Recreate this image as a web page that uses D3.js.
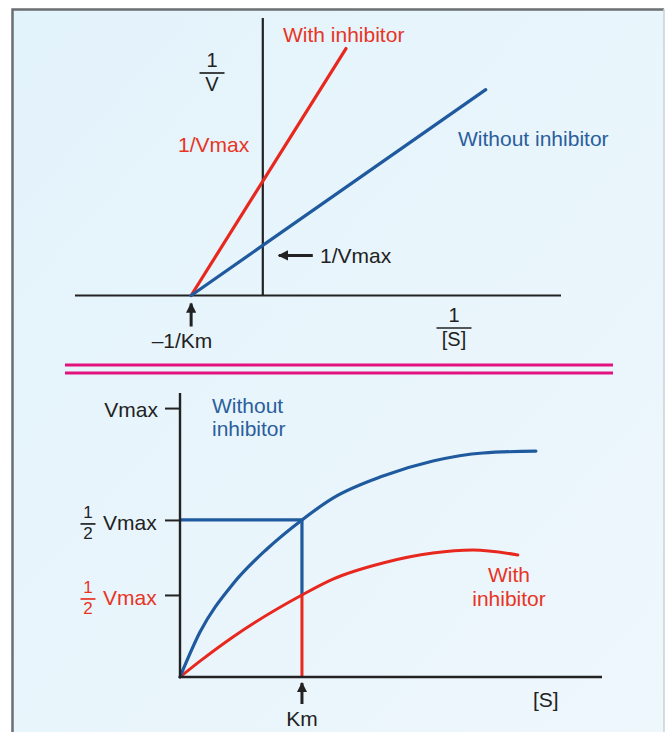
<!DOCTYPE html>
<html>
<head>
<meta charset="utf-8">
<script src="https://cdn.jsdelivr.net/npm/d3@7"></script>
<style>
  html, body { margin: 0; padding: 0; background: #ffffff; }
  svg { display: block; font-family: "Liberation Sans", Arial, Helvetica, sans-serif; }
</style>
</head>
<body>
<svg id="chart" width="666" height="732"></svg>
<script>
// ---- Lineweaver–Burk plot (1/V against 1/[S]); units: 1/Km = 1, 1/Vmax (no inhibitor) = 1
const lbSeriesNames = ["Without inhibitor", "With inhibitor"];
const lbWithout = [[-1, 0], [3.11, 4.11]];
const lbWith = [[-1, 0], [1.16, 4.93]];
const lbXDomain = [-2.62, 4.16];
const lbYDomain = [0, 5.54];

// ---- Michaelis–Menten plot (V against [S]); units: Km = 1, Vmax = 1
const mmSeriesNames = ["Without inhibitor", "With inhibitor"];
const mmWithoutS = [0, 0.164, 0.434, 0.713, 1, 1.254, 1.664, 2.074, 2.484, 2.918];
const mmWithoutV = [0, 0.167, 0.346, 0.476, 0.584, 0.665, 0.747, 0.803, 0.833, 0.840];
const mmWithS = [0, 0.164, 0.434, 1, 1.254, 1.664, 2.074, 2.402, 2.770];
const mmWithV = [0, 0.059, 0.149, 0.305, 0.364, 0.424, 0.461, 0.472, 0.454];
const mmKm = 1;
const mmTickValues = [1.0, 0.584, 0.305];
const mmTickLabels = ["Vmax", "1/2 Vmax", "1/2 Vmax"];
const mmXDomain = [0, 3.46];
const mmYDomain = [0, 1.056];

const BLUE = "#1f5a9e", RED = "#e8281e", INK = "#222222";
const BLUE_TXT = "#2b5e9c", RED_TXT = "#e83424", PINK = "#e4127f";
const FS = 21;

const svg = d3.select("#chart");
const defs = svg.append("defs");

// panel background
const grad = defs.append("linearGradient").attr("id", "bg")
  .attr("x1", "0").attr("y1", "0").attr("x2", "1").attr("y2", "1");
grad.append("stop").attr("offset", "0").attr("stop-color", "#e3f3fb");
grad.append("stop").attr("offset", "1").attr("stop-color", "#eef7fc");

svg.append("rect").attr("x", 12).attr("y", 9).attr("width", 652).attr("height", 740)
  .attr("fill", "url(#bg)");
svg.append("path").attr("d", "M12.5,740 V9.5 H664")
  .attr("fill", "none").attr("stroke", "#6b6f72").attr("stroke-width", 2.5);
svg.append("line").attr("x1", 664).attr("x2", 664).attr("y1", 9).attr("y2", 740)
  .attr("stroke", "#c9d2d8").attr("stroke-width", 1.5);

// arrowheads
defs.append("marker").attr("id", "ah")
  .attr("viewBox", "0 0 10 10").attr("refX", 9).attr("refY", 5)
  .attr("markerWidth", 3.6).attr("markerHeight", 3.4).attr("orient", "auto")
  .attr("markerUnits", "strokeWidth")
  .append("path").attr("d", "M0,0 L10,5 L0,10 Z").attr("fill", INK);

function arrow(g, x1, y1, x2, y2) {
  g.append("line").attr("x1", x1).attr("y1", y1).attr("x2", x2).attr("y2", y2)
    .attr("stroke", INK).attr("stroke-width", 3).attr("marker-end", "url(#ah)");
}

function text(g, x, y, str, opts = {}) {
  return g.append("text").attr("x", x).attr("y", y).text(str)
    .attr("font-size", opts.size || FS)
    .attr("fill", opts.color || INK)
    .attr("text-anchor", opts.anchor || "start");
}

function fraction(g, cx, topY, num, den, color, size, barW) {
  text(g, cx, topY, num, { anchor: "middle", color, size });
  g.append("line").attr("x1", cx - barW / 2).attr("x2", cx + barW / 2)
    .attr("y1", topY + 6).attr("y2", topY + 6)
    .attr("stroke", color).attr("stroke-width", 1.7);
  text(g, cx, topY + 6 + size * 0.9, den, { anchor: "middle", color, size });
}

// ================= Lineweaver–Burk =================
const lbG = svg.append("g");
const lx = d3.scaleLinear().domain(lbXDomain).range([75, 561]);
const ly = d3.scaleLinear().domain(lbYDomain).range([295.5, 18]);

lbG.append("line").attr("x1", lx(lbXDomain[0])).attr("x2", lx(lbXDomain[1]))
  .attr("y1", ly(0)).attr("y2", ly(0)).attr("stroke", INK).attr("stroke-width", 2.2);
lbG.append("line").attr("x1", lx(0)).attr("x2", lx(0))
  .attr("y1", ly(0)).attr("y2", ly(lbYDomain[1])).attr("stroke", INK).attr("stroke-width", 2.2);

const lbLine = d3.line().x(d => lx(d[0])).y(d => ly(d[1]));
[[lbWith, RED], [lbWithout, BLUE]].forEach(([pts, c]) => {
  lbG.append("path").datum(pts).attr("d", lbLine)
    .attr("fill", "none").attr("stroke", c).attr("stroke-width", 3.2).attr("stroke-linecap", "round");
});

text(lbG, 283, 42, lbSeriesNames[1], { color: RED_TXT });
text(lbG, 458, 146, lbSeriesNames[0], { color: BLUE_TXT });
text(lbG, 178, 152, "1/Vmax", { color: RED_TXT });
fraction(lbG, 212, 67, "1", "V", INK, 20, 25);

// 1/Vmax arrow pointing at the y-intercept of the uninhibited line
arrow(lbG, lx(0) + 50, ly(lbWithout[0][1] + 1) + 10, lx(0) + 16, ly(lbWithout[0][1] + 1) + 10);
text(lbG, 320, 263, "1/Vmax");

// -1/Km arrow
arrow(lbG, lx(lbWithout[0][0]), ly(0) + 31, lx(lbWithout[0][0]), ly(0) + 8);
text(lbG, 182, 348, "\u20131/Km", { anchor: "middle" });
fraction(lbG, 454, 322, "1", "[S]", INK, 20, 35);

// ================= divider =================
[365, 373].forEach(y => {
  svg.append("line").attr("x1", 65).attr("x2", 613).attr("y1", y).attr("y2", y)
    .attr("stroke", PINK).attr("stroke-width", 3.2);
});

// ================= Michaelis–Menten =================
const mmG = svg.append("g");
const mx = d3.scaleLinear().domain(mmXDomain).range([180, 602]);
const my = d3.scaleLinear().domain(mmYDomain).range([677, 393]);

const yAxis = d3.axisLeft(my).tickValues(mmTickValues).tickSize(15).tickSizeOuter(0).tickFormat("");
const ya = mmG.append("g").attr("transform", `translate(${mx(0)},0)`).call(yAxis);
ya.select(".domain").remove();
ya.selectAll(".tick line").attr("stroke", INK).attr("stroke-width", 2);

const mmLine = d3.line().x(d => mx(d[0])).y(d => my(d[1])).curve(d3.curveMonotoneX);
const withoutPts = mmWithoutS.map((s, i) => [s, mmWithoutV[i]]);
const withPts = mmWithS.map((s, i) => [s, mmWithV[i]]);

// guide lines at Km
const vHalf = mmTickValues[1], vHalfInh = mmTickValues[2];
mmG.append("line").attr("x1", mx(0)).attr("x2", mx(mmKm)).attr("y1", my(vHalf)).attr("y2", my(vHalf))
  .attr("stroke", BLUE).attr("stroke-width", 3.2);
mmG.append("line").attr("x1", mx(mmKm)).attr("x2", mx(mmKm)).attr("y1", my(vHalf)).attr("y2", my(vHalfInh))
  .attr("stroke", BLUE).attr("stroke-width", 3.2);
mmG.append("line").attr("x1", mx(mmKm)).attr("x2", mx(mmKm)).attr("y1", my(vHalfInh)).attr("y2", my(0))
  .attr("stroke", RED).attr("stroke-width", 3);

mmG.append("path").datum(withPts).attr("d", mmLine)
  .attr("fill", "none").attr("stroke", RED).attr("stroke-width", 3).attr("stroke-linecap", "round");
mmG.append("path").datum(withoutPts).attr("d", mmLine)
  .attr("fill", "none").attr("stroke", BLUE).attr("stroke-width", 3.2).attr("stroke-linecap", "round");

// axes
mmG.append("line").attr("x1", mx(0)).attr("x2", mx(0)).attr("y1", my(mmYDomain[1])).attr("y2", my(0) + 1)
  .attr("stroke", INK).attr("stroke-width", 2.4);
mmG.append("line").attr("x1", mx(0)).attr("x2", mx(mmXDomain[1])).attr("y1", my(0)).attr("y2", my(0))
  .attr("stroke", INK).attr("stroke-width", 2.4);

// tick labels
text(mmG, 158, my(mmTickValues[0]) + 9, mmTickLabels[0], { anchor: "end" });
[[mmTickValues[1], INK], [mmTickValues[2], RED_TXT]].forEach(([v, c]) => {
  const y = my(v);
  fraction(mmG, 88, y - 2, "1", "2", c, 17, 15);
  text(mmG, 103, y + 10, "Vmax", { color: c });
});

text(mmG, 212, 413, "Without", { color: BLUE_TXT });
text(mmG, 212, 436, "inhibitor", { color: BLUE_TXT });
text(mmG, 509, 582, "With", { color: RED_TXT, anchor: "middle" });
text(mmG, 509, 606, "inhibitor", { color: RED_TXT, anchor: "middle" });

arrow(mmG, mx(mmKm), my(0) + 27, mx(mmKm), my(0) + 6);
text(mmG, mx(mmKm), 726, "Km", { anchor: "middle" });
text(mmG, 533, 707, "[S]");
</script>
</body>
</html>
